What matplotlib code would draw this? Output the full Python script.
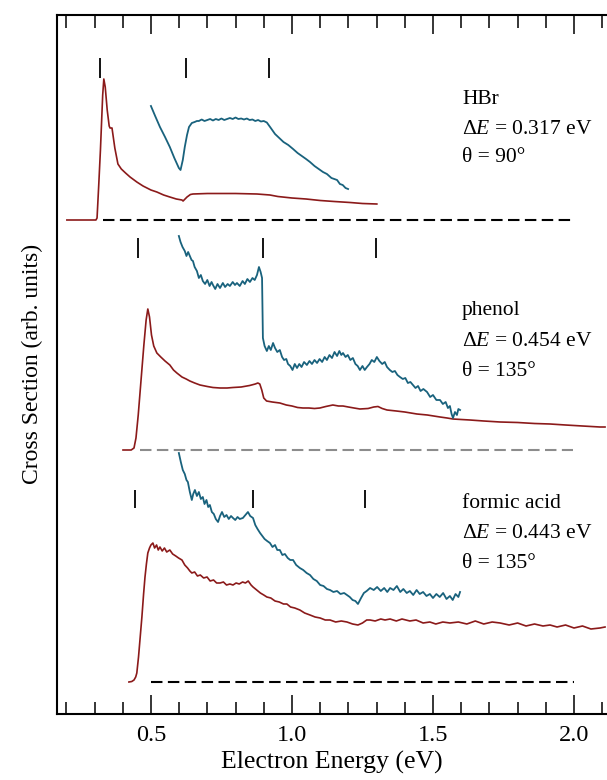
import matplotlib
matplotlib.use('Agg')
import matplotlib.pyplot as plt
from matplotlib.ticker import MultipleLocator

plt.rcParams['font.family'] = ['Liberation Serif', 'DejaVu Serif']
plt.rcParams['mathtext.fontset'] = 'custom'
plt.rcParams['mathtext.rm'] = 'Liberation Serif'
plt.rcParams['mathtext.it'] = 'Liberation Serif:italic'

RED = '#8b1a1a'
TEAL = '#19627d'

# ---- data (energy in eV, signal in arb. units above each baseline) ----
hbr_red_e = [0.202, 0.305, 0.309, 0.315, 0.321, 0.329, 0.333, 0.338, 0.345, 0.352, 0.355, 0.362,
             0.372, 0.383, 0.395, 0.410, 0.426, 0.450, 0.472, 0.500, 0.521, 0.545, 0.567, 0.590,
             0.610, 0.614, 0.628, 0.640, 0.649, 0.700, 0.800, 0.876, 0.922, 0.950, 1.000, 1.050,
             1.100, 1.150, 1.206, 1.250, 1.301]
hbr_red_i = [0, 0, 2, 35, 70, 125, 141, 133, 110, 94, 92, 92,
             72, 56, 51, 47, 43, 38, 34, 30, 28, 25, 23, 21,
             20, 19, 23, 25.5, 26, 26.5, 26.5, 26, 25, 23.5, 22, 21,
             19.5, 18.5, 17.5, 16.5, 16]
hbr_teal_e = [0.500, 0.515, 0.532, 0.550, 0.567, 0.583, 0.599, 0.605, 0.613, 0.620, 0.628, 0.635,
              0.645, 0.655, 0.663, 0.670, 0.680, 0.690, 0.700, 0.710, 0.720, 0.730, 0.740, 0.750,
              0.760, 0.770, 0.780, 0.790, 0.800, 0.810, 0.820, 0.830, 0.840, 0.850, 0.860, 0.870,
              0.880, 0.890, 0.900, 0.911, 0.925, 0.940, 0.955, 0.970, 0.987, 1.004, 1.020, 1.035,
              1.050, 1.064, 1.080, 1.095, 1.110, 1.124, 1.140, 1.160, 1.170, 1.180, 1.190, 1.199]
hbr_teal_i = [114, 104, 93, 83, 73, 62, 52, 50, 60, 73, 85, 93,
              97, 98, 99, 99, 100.5, 99, 100, 101, 99.5, 101, 100, 101.5,
              100, 101, 102, 101, 102.5, 101, 101.5, 100.5, 101.5, 100, 100.5, 99,
              100, 98.5, 99, 97.5, 92, 86, 82, 78, 75, 71, 67, 64,
              61, 58, 54, 51, 48, 46, 42, 40, 36, 35, 32, 31]

phenol_red_e = [0.401, 0.430, 0.440, 0.447, 0.455, 0.465, 0.475, 0.483, 0.489, 0.495, 0.502, 0.510,
                0.521, 0.535, 0.550, 0.567, 0.580, 0.592, 0.610, 0.625, 0.638, 0.655, 0.674, 0.700,
                0.720, 0.745, 0.770, 0.791, 0.820, 0.850, 0.870, 0.879, 0.886, 0.893, 0.900, 0.910,
                0.930, 0.957, 0.980, 1.000, 1.020, 1.039, 1.060, 1.080, 1.099, 1.120, 1.145, 1.165,
                1.181, 1.200, 1.220, 1.241, 1.270, 1.290, 1.305, 1.320, 1.337, 1.370, 1.400, 1.443,
                1.480, 1.525, 1.550, 1.571, 1.600, 1.631, 1.680, 1.738, 1.800, 1.860, 1.915, 1.970,
                2.030, 2.092, 2.110]
phenol_red_i = [0, 0, 2, 12, 35, 70, 105, 130, 141, 133, 115, 104,
                97, 93, 89, 85, 80, 77, 73, 71, 69, 67, 65, 63.5,
                62.5, 62, 62, 62.5, 63, 64.5, 66, 67, 66, 60, 52, 49,
                48, 47, 45, 44, 42.5, 42, 42, 41.5, 42, 43.5, 45, 44,
                44, 43, 42, 41, 41.5, 43, 43.5, 41.5, 40, 39, 38, 36,
                35, 33, 32, 31, 30.5, 30, 29, 28, 27.5, 26.5, 26, 25,
                24, 23, 23]
phenol_teal_e = [0.599, 0.605, 0.612, 0.620, 0.626, 0.632, 0.638, 0.644, 0.649, 0.655, 0.663, 0.670,
                 0.677, 0.684, 0.692, 0.700, 0.708, 0.715, 0.720, 0.728, 0.736, 0.745, 0.755, 0.763,
                 0.772, 0.780, 0.790, 0.798, 0.805, 0.815, 0.825, 0.833, 0.842, 0.851, 0.860, 0.868,
                 0.876, 0.883, 0.889, 0.894, 0.897, 0.903, 0.911, 0.918, 0.925, 0.933, 0.940, 0.948,
                 0.957, 0.965, 0.972, 0.980, 0.986, 0.994, 1.002, 1.010, 1.018, 1.026, 1.034, 1.043,
                 1.053, 1.062, 1.071, 1.080, 1.089, 1.098, 1.107, 1.116, 1.124, 1.133, 1.142, 1.151,
                 1.160, 1.168, 1.175, 1.181, 1.190, 1.198, 1.207, 1.216, 1.225, 1.233, 1.241, 1.250,
                 1.258, 1.266, 1.275, 1.283, 1.292, 1.301, 1.310, 1.320, 1.329, 1.337, 1.347, 1.356,
                 1.365, 1.374, 1.383, 1.393, 1.402, 1.411, 1.420, 1.429, 1.438, 1.447, 1.456, 1.466,
                 1.479, 1.490, 1.500, 1.512, 1.525, 1.535, 1.545, 1.553, 1.560, 1.566, 1.571, 1.578,
                 1.585, 1.590, 1.596]
phenol_teal_i = [214, 208, 203, 199, 194, 198, 194, 190, 189, 183, 179, 172,
                 175, 169, 166, 170, 164, 168, 165, 161, 166, 162, 167, 163,
                 166, 164, 168, 165, 167, 164, 169, 166, 171, 168, 172, 170,
                 175, 183, 178, 172, 112, 104, 99, 104, 100, 107, 102, 98,
                 100, 93, 90, 91, 86, 84, 80, 86, 82, 86, 83, 88,
                 85, 89, 86, 90, 87, 91, 88, 93, 90, 95, 92, 98,
                 94, 99, 95, 97, 93, 95, 90, 92, 86, 84, 80, 84,
                 80, 83, 86, 90, 88, 93, 89, 86, 88, 83, 80, 78,
                 79, 75, 73, 71, 72, 67, 68, 65, 62, 64, 59, 61,
                 58, 53, 55, 50, 50, 46, 48, 42, 44, 36, 32, 38,
                 35, 41, 40]

formic_red_e = [0.422, 0.432, 0.440, 0.446, 0.450, 0.456, 0.462, 0.468, 0.474, 0.479, 0.484, 0.489,
                0.495, 0.500, 0.507, 0.513, 0.520, 0.526, 0.532, 0.540, 0.548, 0.556, 0.567, 0.577,
                0.588, 0.598, 0.610, 0.620, 0.630, 0.638, 0.645, 0.655, 0.665, 0.675, 0.687, 0.699,
                0.710, 0.722, 0.733, 0.745, 0.757, 0.768, 0.780, 0.791, 0.802, 0.813, 0.825, 0.835,
                0.845, 0.855, 0.862, 0.875, 0.888, 0.900, 0.911, 0.925, 0.940, 0.955, 0.970, 0.982,
                0.995, 1.010, 1.028, 1.045, 1.064, 1.082, 1.100, 1.118, 1.135, 1.155, 1.175, 1.195,
                1.215, 1.234, 1.250, 1.265, 1.277, 1.295, 1.315, 1.330, 1.348, 1.370, 1.390, 1.418,
                1.440, 1.465, 1.489, 1.510, 1.535, 1.560, 1.590, 1.620, 1.650, 1.680, 1.710, 1.738,
                1.770, 1.800, 1.830, 1.860, 1.890, 1.915, 1.940, 1.970, 2.000, 2.030, 2.060, 2.092,
                2.110]
formic_red_i = [0, 0.5, 2, 5, 9, 25, 45, 65, 88, 105, 118, 129,
                134, 137, 139, 134, 137, 132, 135, 131, 134, 130, 132, 128,
                126, 124, 122, 117, 114, 111, 109, 110, 106, 107, 104, 105,
                101, 102, 99, 99, 100, 97, 98, 97, 99, 98, 100, 99,
                101, 97, 95, 92, 89, 87, 85, 84, 81, 80, 78, 78,
                75, 74, 72, 69, 67, 65, 64, 62, 62, 60, 61, 60,
                58, 57, 59, 62, 62, 61, 63, 62, 63, 61, 63, 61,
                62, 59, 60, 58, 60, 59, 60, 58, 61, 58, 60, 59,
                57, 59, 56, 58, 56, 57, 55, 57, 54, 56, 53, 54,
                55]
formic_teal_e = [0.599, 0.606, 0.613, 0.620, 0.626, 0.631, 0.638, 0.645, 0.650, 0.656, 0.663, 0.670,
                 0.677, 0.684, 0.690, 0.697, 0.703, 0.709, 0.716, 0.723, 0.730, 0.738, 0.745, 0.752,
                 0.760, 0.768, 0.776, 0.784, 0.791, 0.799, 0.807, 0.815, 0.826, 0.835, 0.844, 0.852,
                 0.862, 0.870, 0.878, 0.887, 0.895, 0.903, 0.912, 0.922, 0.931, 0.940, 0.948, 0.957,
                 0.966, 0.975, 0.985, 0.994, 1.004, 1.015, 1.028, 1.040, 1.052, 1.064, 1.076, 1.088,
                 1.100, 1.112, 1.124, 1.135, 1.147, 1.160, 1.172, 1.185, 1.195, 1.205, 1.215, 1.225,
                 1.234, 1.245, 1.255, 1.265, 1.277, 1.290, 1.302, 1.315, 1.327, 1.338, 1.348, 1.360,
                 1.372, 1.384, 1.395, 1.407, 1.418, 1.430, 1.442, 1.453, 1.465, 1.477, 1.489, 1.500,
                 1.512, 1.524, 1.536, 1.548, 1.560, 1.570, 1.580, 1.590, 1.596]
formic_teal_i = [229, 220, 212, 208, 202, 200, 190, 182, 188, 192, 186, 190,
                 183, 185, 178, 182, 175, 177, 170, 168, 163, 160, 166, 170,
                 165, 167, 163, 166, 164, 162, 165, 163, 164, 167, 170, 166,
                 164, 157, 153, 149, 146, 143, 141, 139, 135, 137, 132, 132,
                 127, 128, 124, 122, 122, 117, 114, 112, 109, 107, 103, 101,
                 97, 96, 93, 92, 90, 91, 88, 89, 87, 85, 82, 81,
                 78, 84, 89, 91, 94, 92, 95, 91, 94, 90, 94, 92,
                 96, 90, 93, 89, 91, 87, 92, 88, 90, 86, 88, 84,
                 88, 85, 89, 83, 86, 82, 88, 85, 90]

# vibrational thresholds (tick marks above each spectrum)
hbr_marks = [0.319, 0.624, 0.918]
phenol_marks = [0.454, 0.897, 1.298]
formic_marks = [0.443, 0.862, 1.259]

# baselines (vertical offsets) and zero-line extents
baselines = [493.7, 263.7, 31.7]
zero_lines = [(0.330, 2.004), (0.461, 1.996), (0.500, 2.000)]
zero_colors = ['black', '#8c8c8c', 'black']
mark_ranges = [(142, 162), (192, 212), (174, 192)]

labels = [
    ['HBr', r'$\Delta E$ = 0.317 eV', 'θ = 90°'],
    ['phenol', r'$\Delta E$ = 0.454 eV', 'θ = 135°'],
    ['formic acid', r'$\Delta E$ = 0.443 eV', 'θ = 135°'],
]
label_y = [[613.7, 583.7, 555.7], [402.7, 372.7, 341.7], [210.7, 180.7, 150.7]]

spectra = [
    (hbr_red_e, hbr_red_i, hbr_teal_e, hbr_teal_i, hbr_marks),
    (phenol_red_e, phenol_red_i, phenol_teal_e, phenol_teal_i, phenol_marks),
    (formic_red_e, formic_red_i, formic_teal_e, formic_teal_i, formic_marks),
]

fig = plt.figure(figsize=(6.07, 7.80), dpi=100)
ax = fig.add_axes([57 / 607, 66.3 / 780, 550 / 607, 699 / 780])

for k, (re, ri, te, ti, marks) in enumerate(spectra):
    b = baselines[k]
    x0, x1 = zero_lines[k]
    ax.plot([x0, x1], [b, b], color=zero_colors[k], lw=1.5, dashes=(5.5, 2.6))
    ax.plot(re, [v + b for v in ri], color=RED, lw=1.2)
    ax.plot(te, [v + b for v in ti], color=TEAL, lw=1.3)
    lo, hi = mark_ranges[k]
    ax.vlines(marks, b + lo, b + hi, color='black', lw=1.3)
    for txt, yy in zip(labels[k], label_y[k]):
        ax.text(1.603, yy, txt, fontsize=15.5, va='center', ha='left')

ax.set_xlim(0.167, 2.117)
ax.set_ylim(0, 699)
ax.set_yticks([])
ax.xaxis.set_major_locator(MultipleLocator(0.5))
ax.xaxis.set_minor_locator(MultipleLocator(0.1))
ax.tick_params(axis='x', which='both', direction='in', top=True, bottom=True,
               labelsize=17.5, pad=8)
ax.tick_params(axis='x', which='major', length=14, width=1.1)
ax.tick_params(axis='x', which='minor', length=9, width=1.1)
for s in ['left', 'bottom', 'top']:
    ax.spines[s].set_linewidth(1.5)
ax.spines['right'].set_visible(False)

ax.set_xlabel('Electron Energy (eV)', fontsize=18.5, labelpad=4)
ax.set_ylabel('Cross Section (arb. units)', fontsize=17, labelpad=10)

fig.savefig('out.png', dpi=100)
